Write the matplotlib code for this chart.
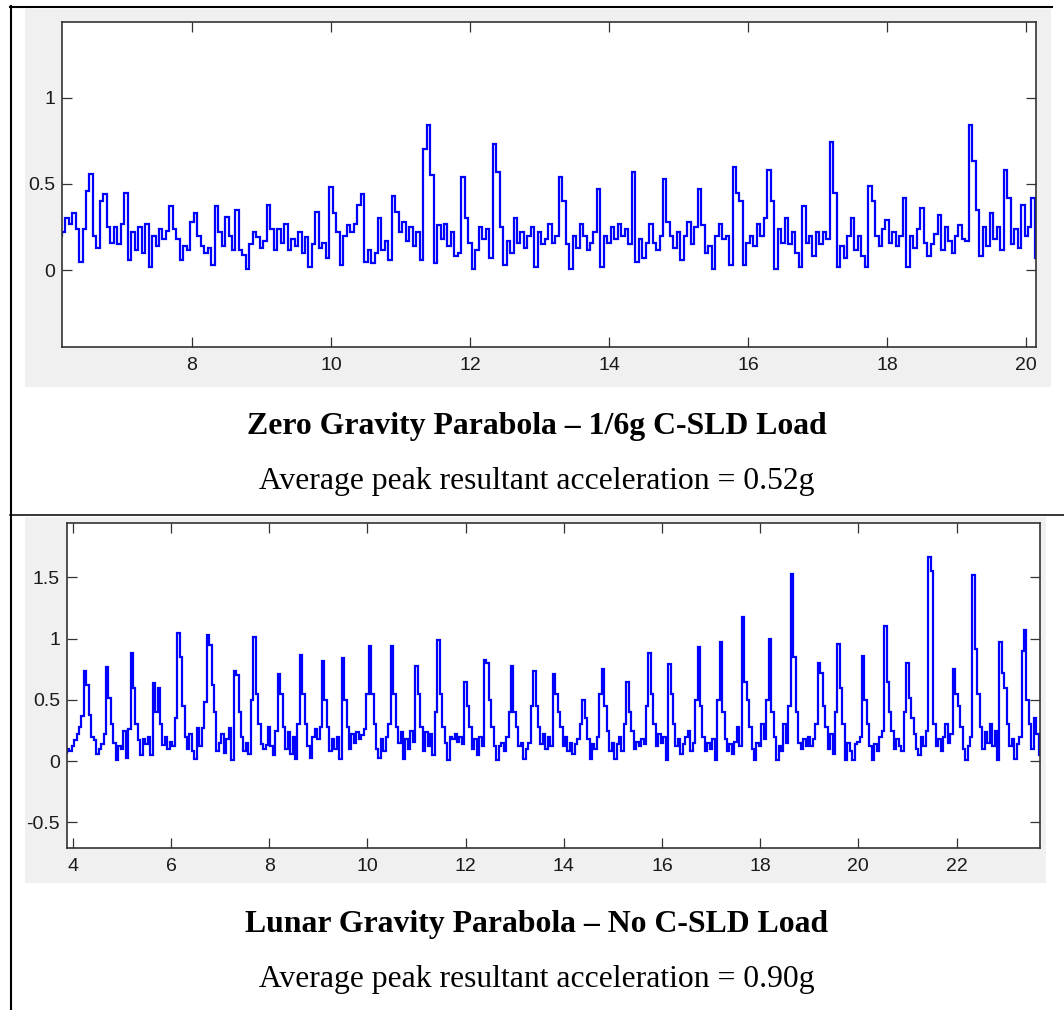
import matplotlib
matplotlib.use("Agg")
import matplotlib.pyplot as plt
import numpy as np
from matplotlib.patches import Rectangle
from matplotlib.lines import Line2D

W, H = 1064, 1010

# resultant acceleration (g), one sample every 0.05 s
zero_g_start = 6.10
zero_g_acc = [
    0.20, 0.22, 0.30, 0.27, 0.33, 0.24, 0.05, 0.24, 0.46, 0.56, 0.20, 0.13, 0.40, 0.44, 0.25, 0.16, 0.25, 0.15, 0.27, 0.45,
    0.06, 0.22, 0.12, 0.25, 0.10, 0.27, 0.02, 0.20, 0.14, 0.24, 0.18, 0.23, 0.37, 0.24, 0.18, 0.06, 0.14, 0.12, 0.28, 0.33,
    0.20, 0.14, 0.10, 0.13, 0.03, 0.37, 0.22, 0.14, 0.31, 0.20, 0.12, 0.35, 0.12, 0.09, 0.01, 0.15, 0.22, 0.19, 0.13, 0.17,
    0.38, 0.24, 0.12, 0.24, 0.16, 0.27, 0.12, 0.18, 0.14, 0.22, 0.10, 0.19, 0.02, 0.15, 0.34, 0.13, 0.16, 0.07, 0.48, 0.33,
    0.22, 0.03, 0.20, 0.26, 0.22, 0.27, 0.38, 0.44, 0.05, 0.12, 0.04, 0.10, 0.30, 0.12, 0.17, 0.06, 0.43, 0.34, 0.22, 0.28,
    0.17, 0.25, 0.14, 0.22, 0.06, 0.70, 0.84, 0.55, 0.04, 0.26, 0.18, 0.27, 0.14, 0.22, 0.08, 0.10, 0.54, 0.30, 0.16, 0.01,
    0.12, 0.25, 0.18, 0.24, 0.07, 0.73, 0.57, 0.25, 0.03, 0.17, 0.10, 0.30, 0.16, 0.22, 0.13, 0.20, 0.25, 0.02, 0.22, 0.15,
    0.18, 0.27, 0.16, 0.20, 0.54, 0.40, 0.15, 0.01, 0.20, 0.13, 0.27, 0.20, 0.12, 0.16, 0.22, 0.47, 0.02, 0.20, 0.16, 0.25,
    0.18, 0.27, 0.20, 0.24, 0.15, 0.57, 0.05, 0.18, 0.07, 0.16, 0.27, 0.16, 0.12, 0.20, 0.53, 0.28, 0.20, 0.13, 0.22, 0.06,
    0.20, 0.28, 0.15, 0.25, 0.47, 0.26, 0.10, 0.14, 0.01, 0.20, 0.27, 0.18, 0.20, 0.03, 0.60, 0.45, 0.40, 0.03, 0.16, 0.20,
    0.14, 0.27, 0.20, 0.30, 0.58, 0.40, 0.01, 0.24, 0.16, 0.30, 0.15, 0.22, 0.10, 0.02, 0.37, 0.16, 0.20, 0.08, 0.22, 0.15,
    0.22, 0.18, 0.74, 0.45, 0.02, 0.14, 0.07, 0.20, 0.30, 0.12, 0.20, 0.08, 0.02, 0.49, 0.40, 0.20, 0.14, 0.24, 0.29, 0.16,
    0.22, 0.14, 0.20, 0.42, 0.02, 0.20, 0.13, 0.24, 0.36, 0.16, 0.08, 0.15, 0.21, 0.32, 0.12, 0.25, 0.17, 0.10, 0.20, 0.26,
    0.18, 0.17, 0.84, 0.63, 0.35, 0.08, 0.25, 0.14, 0.33, 0.18, 0.25, 0.12, 0.58, 0.42, 0.15, 0.24, 0.13, 0.38, 0.20, 0.25,
    0.42, 0.07,
]

lunar_start = 3.85
lunar_acc = [
    0.07, 0.10, 0.08,
    0.12, 0.17, 0.22, 0.28, 0.37, 0.74, 0.62, 0.38, 0.20, 0.17, 0.06, 0.10, 0.14, 0.22, 0.77, 0.52, 0.30, 0.15, 0.01, 0.12,
    0.10, 0.25, 0.03, 0.26, 0.88, 0.60, 0.30, 0.17, 0.05, 0.18, 0.14, 0.20, 0.05, 0.64, 0.40, 0.60, 0.30, 0.13, 0.20, 0.10,
    0.16, 0.12, 0.35, 1.05, 0.85, 0.45, 0.20, 0.10, 0.22, 0.08, 0.02, 0.27, 0.12, 0.27, 0.48, 1.03, 0.95, 0.62, 0.40, 0.08,
    0.15, 0.22, 0.07, 0.18, 0.27, 0.01, 0.74, 0.70, 0.40, 0.20, 0.08, 0.15, 0.06, 0.50, 1.01, 0.55, 0.30, 0.14, 0.10, 0.13,
    0.28, 0.12, 0.05, 0.25, 0.71, 0.55, 0.28, 0.10, 0.24, 0.06, 0.20, 0.02, 0.30, 0.87, 0.55, 0.30, 0.12, 0.03, 0.20, 0.26,
    0.18, 0.28, 0.82, 0.50, 0.28, 0.08, 0.18, 0.10, 0.20, 0.02, 0.84, 0.50, 0.28, 0.10, 0.22, 0.15, 0.24, 0.18, 0.21, 0.26,
    0.55, 0.94, 0.55, 0.30, 0.10, 0.03, 0.18, 0.08, 0.20, 0.30, 0.94, 0.55, 0.28, 0.15, 0.24, 0.02, 0.18, 0.10, 0.25, 0.16,
    0.78, 0.55, 0.28, 0.08, 0.24, 0.12, 0.22, 0.05, 0.40, 0.99, 0.55, 0.28, 0.15, 0.01, 0.20, 0.18, 0.22, 0.16, 0.20, 0.14,
    0.65, 0.45, 0.28, 0.10, 0.18, 0.05, 0.20, 0.12, 0.83, 0.80, 0.50, 0.28, 0.12, 0.01, 0.12, 0.15, 0.08, 0.20, 0.40, 0.78,
    0.40, 0.28, 0.12, 0.15, 0.02, 0.10, 0.15, 0.45, 0.74, 0.45, 0.28, 0.14, 0.22, 0.10, 0.20, 0.12, 0.71, 0.55, 0.40, 0.28,
    0.12, 0.20, 0.08, 0.15, 0.06, 0.14, 0.18, 0.30, 0.50, 0.35, 0.18, 0.02, 0.14, 0.10, 0.20, 0.55, 0.75, 0.45, 0.25, 0.08,
    0.15, 0.02, 0.14, 0.20, 0.08, 0.30, 0.65, 0.40, 0.25, 0.10, 0.16, 0.12, 0.18, 0.14, 0.45, 0.88, 0.55, 0.30, 0.12, 0.22,
    0.15, 0.20, 0.01, 0.79, 0.55, 0.30, 0.12, 0.18, 0.06, 0.14, 0.20, 0.25, 0.08, 0.15, 0.50, 0.93, 0.45, 0.20, 0.08, 0.15,
    0.10, 0.18, 0.01, 0.50, 0.97, 0.40, 0.18, 0.08, 0.14, 0.06, 0.16, 0.28, 0.12, 1.18, 0.65, 0.50, 0.28, 0.10, 0.01, 0.15,
    0.12, 0.30, 0.18, 0.50, 1.00, 0.40, 0.20, 0.01, 0.12, 0.08, 0.30, 0.15, 0.45, 1.53, 0.85, 0.40, 0.15, 0.10, 0.18, 0.12,
    0.20, 0.12, 0.18, 0.30, 0.80, 0.72, 0.45, 0.28, 0.10, 0.22, 0.06, 0.40, 0.96, 0.60, 0.30, 0.01, 0.15, 0.08, 0.01, 0.14,
    0.16, 0.20, 0.86, 0.50, 0.30, 0.12, 0.01, 0.14, 0.08, 0.20, 0.25, 1.10, 0.65, 0.40, 0.25, 0.10, 0.18, 0.12, 0.08, 0.40,
    0.80, 0.52, 0.35, 0.22, 0.10, 0.05, 0.20, 0.12, 0.25, 1.67, 1.55, 0.30, 0.12, 0.18, 0.08, 0.20, 0.30, 0.15, 0.22, 0.75,
    0.55, 0.45, 0.28, 0.10, 0.01, 0.12, 0.20, 1.52, 0.92, 0.55, 0.28, 0.10, 0.24, 0.15, 0.30, 0.12, 0.25, 0.01, 0.97, 0.72,
    0.60, 0.30, 0.12, 0.18, 0.02, 0.14, 0.20, 0.90, 1.07, 0.50, 0.30, 0.10, 0.35, 0.22, 0.05,
]

zero_g_xticks = [8, 10, 12, 14, 16, 18, 20]
zero_g_yticks = [0, 0.5, 1]
lunar_xticks = [4, 6, 8, 10, 12, 14, 16, 18, 20, 22]
lunar_yticks = [-0.5, 0, 0.5, 1, 1.5]

titles = ["Zero Gravity Parabola \u2013 1/6g C-SLD Load",
          "Lunar Gravity Parabola \u2013 No C-SLD Load"]
captions = ["Average peak resultant acceleration = 0.52g",
            "Average peak resultant acceleration = 0.90g"]


def rect(x0, y0, x1, y1):
    return [x0 / W, 1 - y1 / H, (x1 - x0) / W, (y1 - y0) / H]


def fy(py):
    return 1 - py / H


def ylab(v):
    return "%g" % v


fig = plt.figure(figsize=(W / 100, H / 100), dpi=100)
fig.patch.set_facecolor("white")

# grey screenshot backgrounds
for x0, y0, x1, y1 in [(25, 9, 1051, 387), (25, 517, 1046, 883)]:
    r = rect(x0, y0, x1, y1)
    fig.add_artist(Rectangle((r[0], r[1]), r[2], r[3], transform=fig.transFigure,
                             facecolor="#f0f0f0", edgecolor="none", zorder=0))

# table borders
fig.add_artist(Line2D([10 / W, 1052 / W], [fy(7), fy(7)], transform=fig.transFigure,
                      color="black", lw=1.5))
fig.add_artist(Line2D([11 / W, 11 / W], [fy(6), 0], transform=fig.transFigure,
                      color="black", lw=1.5))
fig.add_artist(Line2D([10 / W, 1064 / W], [fy(515), fy(515)], transform=fig.transFigure,
                      color="black", lw=1.1))

panels = [
    (rect(62, 22, 1036, 347), zero_g_start, zero_g_acc, (6.13, 20.14), (-0.444, 1.437),
     zero_g_xticks, zero_g_yticks),
    (rect(67, 523, 1040, 848), lunar_start, lunar_acc, (3.88, 23.70), (-0.709, 1.945),
     lunar_xticks, lunar_yticks),
]

for pos, t0, acc, xl, yl, xt, yt in panels:
    ax = fig.add_axes(pos)
    t = t0 + 0.05 * np.arange(len(acc))
    ax.plot(t, acc, color="#0000ff", lw=1.6, drawstyle="steps-mid",
            solid_joinstyle="miter")
    ax.set_xlim(*xl)
    ax.set_ylim(*yl)
    ax.set_xticks(xt)
    ax.set_xticklabels([str(v) for v in xt])
    ax.set_yticks(yt)
    ax.set_yticklabels([ylab(v) for v in yt])
    ax.tick_params(direction="in", length=7.5, width=0.9, color="#333333",
                   top=True, right=True, labelsize=14, labelcolor="#1a1a1a")
    ax.tick_params(axis="x", pad=7.5)
    ax.tick_params(axis="y", pad=5)
    for lab in ax.get_xticklabels() + ax.get_yticklabels():
        lab.set_family("Liberation Sans")
    for s in ax.spines.values():
        s.set_color("#333333")
        s.set_linewidth(1.2)
    ax.set_facecolor("white")

# captions under each plot
for title, cap, yb1, yb2 in [(titles[0], captions[0], 434, 489),
                             (titles[1], captions[1], 932, 987)]:
    fig.text(537 / W, fy(yb1), title, ha="center", va="baseline",
             family="Liberation Serif", weight="bold", fontsize=22.9)
    fig.text(537 / W, fy(yb2), cap, ha="center", va="baseline",
             family="Liberation Serif", fontsize=22.8)

fig.savefig("out.png", dpi=100)
